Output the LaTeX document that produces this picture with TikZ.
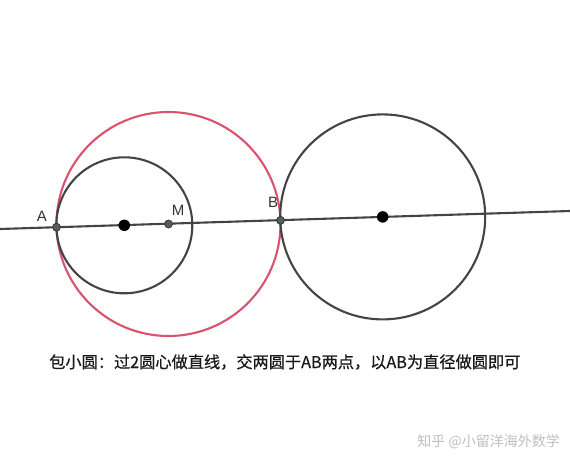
\documentclass[tikz,border=0pt]{standalone}
\usepackage{fontspec}
\setmainfont{Liberation Sans}
\newfontfamily\cjk{Noto Sans CJK SC}
\newfontfamily\cjkm{Noto Sans CJK SC}[FakeBold=0.6]
\definecolor{lineclr}{RGB}{68,68,68}
\definecolor{redclr}{RGB}{217,82,110}
\definecolor{ptfill}{RGB}{90,90,90}
\tikzset{
  geo/.style={draw=lineclr, line width=2.1pt},
  redc/.style={draw=redclr, line width=2.1pt},
  pt/.style={circle, fill=ptfill, draw=black!80, line width=0.7pt, inner sep=0pt, minimum size=8pt},
  ctr/.style={circle, fill=black, inner sep=0pt, minimum size=11.5pt},
  lbl/.style={font=\fontsize{15}{17}\selectfont, text=black!80, inner sep=0pt}
}
\begin{document}
\begin{tikzpicture}[x=1pt,y=-1pt]
\useasboundingbox (0,0) rectangle (570,471);
\fill[white] (0,0) rectangle (570,471);
\coordinate (L1) at (0,229);
\coordinate (L2) at (570,211);
\coordinate (O1) at (124.3,225.3);
\coordinate (O2) at (382.7,216.9);
\coordinate (Mc) at (168.5,224.0);
\draw[redc] (Mc) circle (112);
\draw[geo] (O1) circle (68);
\draw[geo] (O2) circle (102.5);
\draw[geo] (L1) -- (L2);
\node[ctr] (o1) at (O1) {};
\node[ctr] (o2) at (O2) {};
\node[pt] (A) at (56.5,227.2) {};
\node[pt] (M) at (Mc) {};
\node[pt] (B) at (280.5,220.3) {};
\node[lbl] (la) at (42,216) {A};
\node[lbl] (lm) at (178,210) {M};
\node[lbl] (lb) at (273,202) {B};
\node[font=\cjkm\fontsize{16.2}{18}\selectfont, text=black!90, anchor=west, inner sep=0pt] (cap) at (49,362) {包小圆：过2圆心做直线，交两圆于AB两点，以AB为直径做圆即可};
\node[font=\cjk\fontsize{14}{16}\selectfont, text=black!25, anchor=east, inner sep=0pt] (wm) at (560,442) {知乎 @小留洋海外数学};
\end{tikzpicture}
\end{document}
